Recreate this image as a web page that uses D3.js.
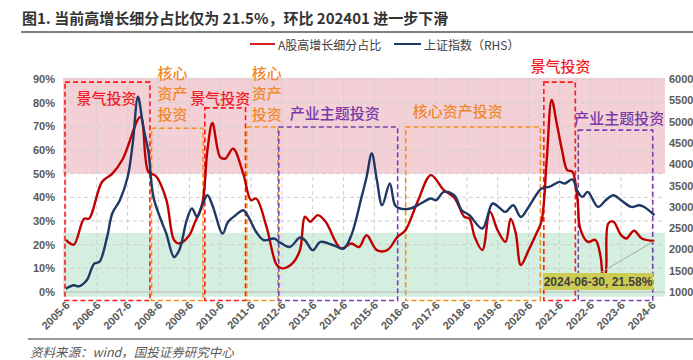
<!DOCTYPE html>
<html><head><meta charset="utf-8">
<script src="https://cdn.jsdelivr.net/npm/d3@7"></script>
<style>
body{margin:0;background:#fff;}
svg{display:block;font-family:"Noto Sans CJK SC","Noto Sans",sans-serif;}
</style></head><body>
<svg id="c" width="693" height="360"></svg>
<script>
// ---------------- DATA ----------------
const tickLabels = ["2005-6","2006-6","2007-6","2008-6","2009-6","2010-6","2011-6","2012-6","2013-6","2014-6","2015-6","2016-6","2017-6","2018-6","2019-6","2020-6","2021-6","2022-6","2023-6","2024-6"];
const leftTicks = [0,10,20,30,40,50,60,70,80,90];
const rightTicks = [1000,1500,2000,2500,3000,3500,4000,4500,5000,5500,6000];

const redName = "A股高增长细分占比";
const redDates = ["2005-06","2005-09","2006-01","2006-03","2006-08","2006-12","2007-04","2007-11","2008-02","2008-05","2008-09","2008-12","2009-02","2009-06","2009-08","2009-11","2010-01","2010-03","2010-06","2010-08","2010-11","2011-03","2011-06","2011-08","2011-12","2012-04","2012-06","2012-10","2013-01","2013-03","2013-05","2013-08","2013-11","2014-05","2014-09","2014-12","2015-03","2015-07","2015-11","2016-03","2016-06","2016-11","2017-04","2017-09","2018-01","2018-05","2018-07","2018-09","2018-12","2019-03","2019-06","2019-09","2019-11","2020-01","2020-03","2020-06","2020-09","2020-11","2021-01","2021-03","2021-05","2021-07","2021-09","2021-11","2022-01","2022-02","2022-05","2022-08","2022-10","2022-11","2022-12","2023-01","2023-03","2023-06","2023-08","2023-11","2024-02","2024-06-30"];
const redValues = [22,20,31,31,46.5,50,56,74,50.8,49,39,22,20.5,24,29,37.4,60,71.4,57,56.4,60.6,50,38.8,39.5,27.6,11.4,10,12,17.7,31.8,29.7,32.5,29.7,18.4,20.5,19,24,17.7,17.7,23.3,26,38.8,49.4,43,40,31.8,31,23.3,17.7,33.9,26,21.2,31,24.7,11.4,17.7,24.7,30,55.7,81.2,71,60,51.5,50.8,38.8,26.9,21.2,22,14.9,6,8,29,29.7,24,22.6,25.9,22.6,21.58];

const blueName = "上证指数（RHS）";
const blueDates = ["2005-06","2005-09","2005-11","2006-02","2006-05","2006-07","2006-10","2006-12","2007-03","2007-06","2007-08","2007-10","2007-12","2008-02","2008-04","2008-07","2008-09","2008-12","2009-02","2009-05","2009-07","2009-09","2009-11","2010-01","2010-03","2010-07","2010-09","2010-12","2011-03","2011-05","2011-08","2011-11","2012-03","2012-05","2012-09","2013-01","2013-03","2013-06","2013-09","2014-02","2014-06","2014-09","2015-01","2015-03","2015-05","2015-07","2015-09","2015-12","2016-02","2016-04","2016-08","2016-12","2017-04","2017-06","2017-09","2018-01","2018-04","2018-07","2018-12","2019-04","2019-07","2019-09","2019-12","2020-03","2020-06","2020-11","2021-02","2021-06","2021-08","2021-11","2022-01","2022-03","2022-05","2022-09","2022-12","2023-03","2023-06","2023-10","2024-01","2024-03","2024-07"];
const blueValues = [1080,1157,1134,1275,1667,1705,2293,2842,3155,3700,4500,5582,4900,4300,3233,2685,2372,1822,1980,2685,2960,2762,3037,3272,3037,2372,2645,2802,2920,2762,2410,2215,2255,2175,2057,2278,2215,1980,2175,2097,2020,2330,3233,3700,4252,3625,3037,3547,3037,2960,2960,3077,3195,3155,3350,3272,2920,2802,2490,3077,2960,2880,3037,2762,2997,3430,3467,3585,3547,3641,3360,3233,3350,2997,3155,3272,3155,2997,3037,2997,2802];

// investment-style periods
const periodLabels = ["景气投资","核心资产投资","景气投资","核心资产投资","产业主题投资","核心资产投资","景气投资","产业主题投资"];
const periodKinds  = ["boom","core","boom","core","theme","core","boom","theme"];
const periodStarts = ["2005-05-20","2008-03-10","2009-12-01","2011-04-12","2012-04-25","2016-06-06","2020-11-28","2022-01-10"];
const periodEnds   = ["2008-02-20","2009-11-10","2011-03-28","2012-04-15","2016-03-03","2020-10-18","2021-12-06","2024-06-10"];
const periodTops   = [88.7,69.2,77.8,69.7,69.7,69.7,88.7,68.4];

const calloutDate = "2024-06-30", calloutValue = 21.58;
const hotBand = [50, 90.5], coldBand = [-2, 25];

const title = "图1. 当前高增长细分占比仅为 21.5%，环比 202401 进一步下滑";
const source = "资料来源：wind，国投证券研究中心";

// ---------------- CHART ----------------
const parse = s => s.length === 7 ? d3.timeParse("%Y-%m")(s) : d3.timeParse("%Y-%m-%d")(s);
const svg = d3.select("#c");
const plotL = 63, plotR = 665, plotT = 79, plotB = 292;

const x = d3.scaleTime().domain([new Date(2005,5,1), new Date(2024,5,1)]).range([66, 652]);
const yL = d3.scaleLinear().domain([0, 90]).range([plotB, plotT]);
const yR = d3.scaleLinear().domain([1000, 6000]).range([plotB, plotT]);
const tickDates = tickLabels.map(t => { const [yy, mm] = t.split("-"); return new Date(+yy, +mm - 1, 1); });

const colors = {boom:"#ff1a1a", core:"#f7901e", theme:"#7a3fb0"};
const labelColors = {boom:"#f01c24", core:"#f0882a", theme:"#7a3aa8"};

// title
svg.append("text").attr("x", 22).attr("y", 17).attr("dominant-baseline","central")
  .attr("font-size", 15).attr("font-weight", "bold").attr("fill", "#333").text(title);
svg.append("line").attr("x1", 21).attr("x2", 693).attr("y1", 32).attr("y2", 32)
  .attr("stroke", "#555").attr("stroke-width", 1.5);

// bands
svg.append("rect").attr("x", plotL).attr("width", plotR - plotL)
  .attr("y", yL(hotBand[1])).attr("height", yL(hotBand[0]) - yL(hotBand[1])).attr("fill", "#f3d0d5");
svg.append("rect").attr("x", plotL).attr("width", plotR - plotL)
  .attr("y", yL(coldBand[1])).attr("height", yL(coldBand[0]) - yL(coldBand[1])).attr("fill", "#d4efe0");

// gridlines
const grid = svg.append("g");
grid.selectAll(".hg").data(leftTicks.filter(d => d > 0)).join("line")
  .attr("x1", plotL).attr("x2", plotR).attr("y1", d => yL(d)).attr("y2", d => yL(d))
  .attr("stroke", "#cfcfcf").attr("stroke-width", 1).attr("stroke-dasharray", "4,3");
grid.selectAll(".vg").data(tickDates).join("line")
  .attr("x1", d => x(d)).attr("x2", d => x(d)).attr("y1", plotT).attr("y2", plotB)
  .attr("stroke", "#cfcfcf").attr("stroke-width", 1).attr("stroke-dasharray", "4,3");
svg.append("line").attr("x1", plotL).attr("x2", plotR).attr("y1", yL(0)).attr("y2", yL(0))
  .attr("stroke", "#b8b8b8").attr("stroke-width", 1);

// period boxes
const boxBottom = yL(-3.6);
periodLabels.forEach((lab, i) => {
  const x0 = x(parse(periodStarts[i])), x1 = x(parse(periodEnds[i]));
  svg.append("rect").attr("x", x0).attr("y", yL(periodTops[i]))
    .attr("width", x1 - x0).attr("height", boxBottom - yL(periodTops[i]))
    .attr("fill", "none").attr("stroke", colors[periodKinds[i]]).attr("stroke-width", 1.6)
    .attr("stroke-dasharray", "5,3");
});

// axes
const axL = svg.append("g").attr("transform", `translate(${plotL},0)`)
  .call(d3.axisLeft(yL).tickValues(leftTicks).tickFormat(d => d + "%").tickSize(0).tickPadding(8));
const axR = svg.append("g").attr("transform", `translate(${plotR},0)`)
  .call(d3.axisRight(yR).tickValues(rightTicks).tickFormat(d3.format("d")).tickSize(0).tickPadding(4));
const axB = svg.append("g").attr("transform", `translate(0,${plotB})`)
  .call(d3.axisBottom(x).tickValues(tickDates).tickFormat((d, i) => tickLabels[i]).tickSize(0));
[axL, axR, axB].forEach(a => {
  a.select(".domain").remove();
  a.selectAll("text").attr("font-family", "Liberation Sans, Arial, sans-serif")
    .attr("font-weight", "bold").attr("font-size", 11).attr("fill", "#595959");
});
axB.selectAll("text").attr("text-anchor", "end").attr("dy", null).attr("y", 0)
  .attr("transform", "translate(4,14) rotate(-45)");

// lines
const redPts = redDates.map((d, i) => [parse(d), redValues[i]]);
const bluePts = blueDates.map((d, i) => [parse(d), blueValues[i]]);
svg.append("path").datum(redPts)
  .attr("d", d3.line().x(d => x(d[0])).y(d => yL(d[1])).curve(d3.curveCatmullRom.alpha(0.5)))
  .attr("fill", "none").attr("stroke", "#c00000").attr("stroke-width", 2.4).attr("stroke-linejoin", "round");
svg.append("path").datum(bluePts)
  .attr("d", d3.line().x(d => x(d[0])).y(d => yR(d[1])).curve(d3.curveCatmullRom.alpha(0.5)))
  .attr("fill", "none").attr("stroke", "#1f3864").attr("stroke-width", 2.4).attr("stroke-linejoin", "round");

// period labels
const lab = svg.append("g").attr("font-size", 15).attr("font-weight", 500);
function boxX(i, which) { return x(parse(which === 0 ? periodStarts[i] : periodEnds[i])); }
function addLabel(i, lines, ax, ay, anchor) {
  lines.forEach((t, k) => {
    lab.append("text").attr("x", ax).attr("y", ay + k * 20.5).attr("dominant-baseline", "central")
      .attr("text-anchor", anchor).attr("fill", labelColors[periodKinds[i]]).text(t);
  });
}
addLabel(0, [periodLabels[0]], (boxX(0,0) + boxX(0,1)) / 2 - 1, 97, "middle");
addLabel(1, ["核心","资产","投资"], boxX(1,0) + 6, 72, "start");
addLabel(2, [periodLabels[2]], (boxX(2,0) + boxX(2,1)) / 2 - 5, 97, "middle");
addLabel(3, ["核心","资产","投资"], boxX(3,0) + 5, 72, "start");
addLabel(4, [periodLabels[4]], boxX(4,0) + 11, 112, "start");
addLabel(5, [periodLabels[5]], boxX(5,0) + 7, 110, "start");
addLabel(6, [periodLabels[6]], (boxX(6,0) + boxX(6,1)) / 2 + 1, 65, "middle");
addLabel(7, [periodLabels[7]], boxX(7,0) - 4, 117, "start");

// callout
const cx = x(parse(calloutDate)), cy = yL(calloutValue);
svg.append("line").attr("x1", 600).attr("y1", 273).attr("x2", cx).attr("y2", cy)
  .attr("stroke", "#a6a6a6").attr("stroke-width", 1);
svg.append("rect").attr("x", 543).attr("y", 273).attr("width", 110).attr("height", 17).attr("fill", "#cccc55");
svg.append("text").attr("x", 598).attr("y", 282).attr("text-anchor", "middle").attr("dominant-baseline", "central")
  .attr("font-family", "Liberation Sans, Arial, sans-serif").attr("font-weight", "bold").attr("font-size", 12)
  .attr("fill", "#404040").text(`${calloutDate}, ${calloutValue}%`);

// legend
const lg = svg.append("g").attr("font-size", 12).attr("fill", "#404040");
lg.append("line").attr("x1", 250).attr("x2", 275).attr("y1", 44).attr("y2", 44).attr("stroke", "#d81e1e").attr("stroke-width", 2);
lg.append("text").attr("x", 278).attr("y", 44).attr("dominant-baseline", "central").text(redName);
lg.append("line").attr("x1", 394).attr("x2", 421).attr("y1", 44).attr("y2", 44).attr("stroke", "#1f3864").attr("stroke-width", 2);
lg.append("text").attr("x", 424).attr("y", 44).attr("dominant-baseline", "central").text(blueName);

// footer
svg.append("line").attr("x1", 28).attr("x2", 693).attr("y1", 339).attr("y2", 339)
  .attr("stroke", "#999").attr("stroke-width", 2);
svg.append("text").attr("x", 30).attr("y", 351).attr("dominant-baseline", "central")
  .attr("font-size", 12.5).attr("font-style", "italic").attr("fill", "#595959").text(source);
</script>
</body></html>
